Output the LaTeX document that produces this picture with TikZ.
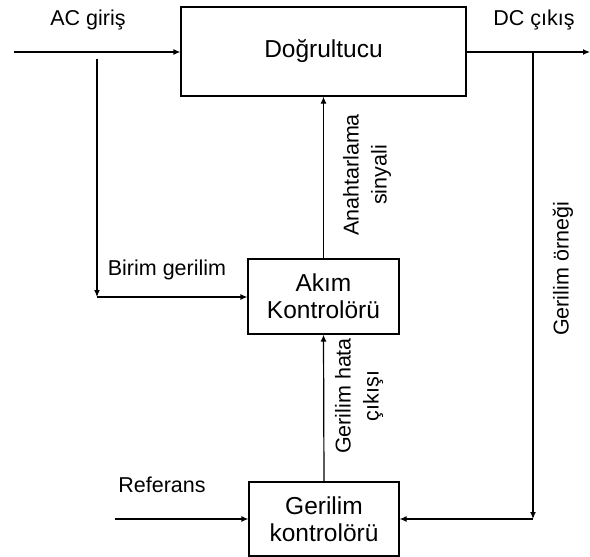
\documentclass[tikz,border=0pt]{standalone}
\usepackage{fontspec}
\setmainfont{Liberation Sans}
\usetikzlibrary{arrows.meta}
\begin{document}
\begin{tikzpicture}[x=1pt,y=-1pt,
  box/.style={draw,line width=1.2pt,rectangle,inner sep=0pt,align=center,
    font=\fontsize{24.5}{27}\selectfont},
  lbl/.style={inner sep=0pt,align=center,font=\fontsize{21.5}{28}\selectfont},
  conn/.style={line width=1.2pt},
  arr/.style={conn,-{Latex[length=7pt,width=6pt]}}]
\useasboundingbox (0,0) rectangle (590,557);
\node[box,minimum width=285pt,minimum height=89pt] (dog) at (323.5,51.5) {Doğrultucu};
\node[box,minimum width=151pt,minimum height=75pt] (akim) at (323.5,296.5) {Akım\\Kontrolörü};
\node[box,minimum width=150pt,minimum height=74pt] (ger) at (324,519) {Gerilim\\kontrolörü};
\coordinate (acin) at (14,52);
\coordinate (b1) at (97,59);
\coordinate (b2) at (97,297);
\coordinate (dcout) at (590,52);
\coordinate (s1) at (533,52);
\coordinate (s2) at (533,519);
\coordinate (ref) at (115,519);
\draw[arr] (acin) -- (acin -| dog.west);
\draw[arr] (b1) -- (b2);
\draw[arr] (b2) -- (b2 -| akim.west);
\draw[arr] (dog.east |- dcout) -- (dcout);
\draw[arr] (s1) -- (s2);
\draw[arr] (s2) -- (ger.east);
\draw[arr] (ref) -- (ger.west);
\draw[arr] (akim.north) -- (dog.south);
\draw[arr] (ger.north) -- (akim.south);
\node[lbl] (lac) at (88,20) {AC giriş};
\node[lbl] (ldc) at (534,20) {DC çıkış};
\node[lbl] (lbg) at (167,270) {Birim gerilim};
\node[lbl] (lref) at (162,485) {Referans};
\node[lbl,rotate=90] (lan) at (367,175) {Anahtarlama\\sinyali};
\node[lbl,rotate=90] (lgh) at (359,396) {Gerilim hata\\çıkışı};
\node[lbl,rotate=90] (lgo) at (563,269) {Gerilim örneği};
\end{tikzpicture}
\end{document}
